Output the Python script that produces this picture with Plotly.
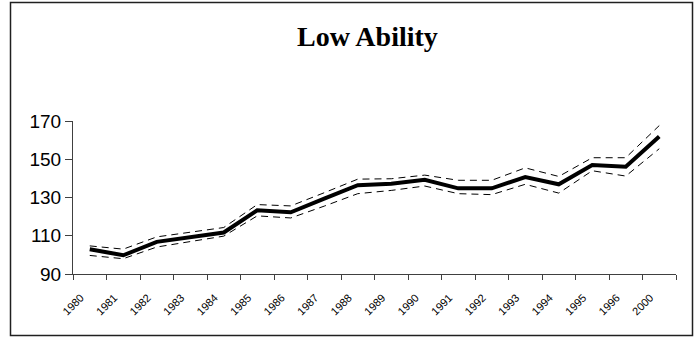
import plotly.graph_objects as go

years = ["1980", "1981", "1982", "1983", "1984", "1985", "1986", "1987", "1988",
         "1989", "1990", "1991", "1992", "1993", "1994", "1995", "1996", "2000"]
estimate = [102.9, 99.8, 106.8, 109.4, 111.7, 123.3, 122.3, 129.4, 136.4,
            137.2, 139.3, 134.8, 134.8, 140.7, 136.9, 147.0, 146.1, 161.9]
upper = [104.7, 103.0, 109.4, 112.0, 114.3, 126.3, 125.6, 132.5, 139.6,
         139.8, 141.7, 139.0, 139.0, 145.5, 141.0, 150.8, 150.8, 167.6]
lower = [99.7, 98.0, 104.1, 107.0, 109.8, 120.4, 119.3, 125.5, 132.0,
         133.7, 136.0, 132.0, 131.5, 136.9, 132.3, 144.0, 141.2, 155.5]

y_ticks = [90, 110, 130, 150, 170]

fig = go.Figure()
fig.add_trace(go.Scatter(x=years, y=upper, mode="lines",
                         line=dict(color="black", width=1, dash="7px,5px"),
                         showlegend=False))
fig.add_trace(go.Scatter(x=years, y=lower, mode="lines",
                         line=dict(color="black", width=1, dash="7px,5px"),
                         showlegend=False))
fig.add_trace(go.Scatter(x=years, y=estimate, mode="lines",
                         line=dict(color="black", width=4),
                         showlegend=False))

L, R, T, B = 73, 23, 121, 63
W, H = 699, 337
pw, ph = W - L - R, H - T - B

def px_to_paper_x(px):
    return (px - L) / pw

def px_to_paper_y(py):
    return (H - B - py) / ph

fig.update_layout(
    width=W, height=H,
    margin=dict(l=L, r=R, t=T, b=B, pad=0),
    paper_bgcolor="white", plot_bgcolor="white",
    font=dict(family="Liberation Sans, Arial, sans-serif", color="black"),
    xaxis=dict(type="category", range=[-0.5, len(years) - 0.5],
               showgrid=False, zeroline=False,
               showline=True, linecolor="#404040", linewidth=1,
               ticks="outside", ticklen=5, tickcolor="#404040",
               tickson="boundaries", tickangle=-45,
               ticklabelstandoff=12, ticklabelshift=-9,
               tickfont=dict(size=11, color="black")),
    yaxis=dict(range=[90, 170], tickvals=y_ticks,
               showgrid=False, zeroline=False,
               showline=True, linecolor="#404040", linewidth=1,
               ticks="outside", ticklen=7, tickcolor="#404040",
               tickfont=dict(size=19, color="black")),
    annotations=[dict(text="<b>Low Ability</b>", xref="paper", yref="paper",
                      x=px_to_paper_x(367), y=px_to_paper_y(37),
                      xanchor="center", yanchor="middle", showarrow=False,
                      font=dict(family="Liberation Serif, Times New Roman, serif",
                                size=28, color="black"))],
    shapes=[dict(type="rect", xref="paper", yref="paper",
                 x0=px_to_paper_x(10.5), x1=px_to_paper_x(692.5),
                 y0=px_to_paper_y(335.5), y1=px_to_paper_y(2.5),
                 line=dict(color="#202020", width=1.5), layer="below")],
)

fig.write_html("out.html", config={"displayModeBar": False},
               post_script="document.body.style.margin='0';document.body.style.overflow='hidden';")
